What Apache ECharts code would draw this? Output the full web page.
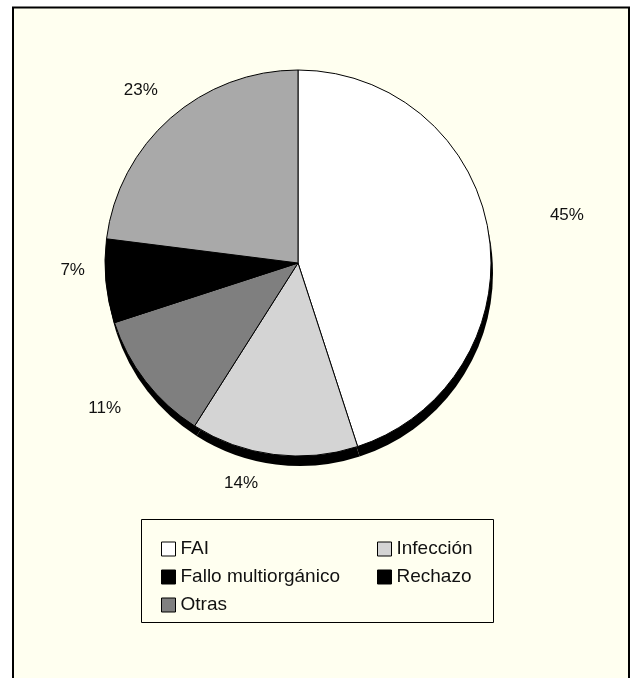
<!DOCTYPE html>
<html>
<head>
<meta charset="utf-8">
<script src="https://cdn.jsdelivr.net/npm/echarts@6/dist/echarts.min.js"></script>
<style>
  html, body { margin: 0; padding: 0; background: #fff; }
  #chart { width: 632px; height: 678px; }
</style>
</head>
<body>
<div id="chart"></div>
<script>
// slices, clockwise from 12 o'clock
const causes = ['FAI', 'Infección', 'Otras', 'Rechazo', 'Fallo multiorgánico']
const shares = [45, 14, 11, 7, 23]
const sliceColors = ['#ffffff', '#d4d4d4', '#7f7f7f', '#000000', '#a9a9a9']
// legend as printed
const legendLeftCol = ['FAI', 'Fallo multiorgánico', 'Otras']
const legendRightCol = ['Infección', 'Rechazo']
const legendColors = {
  'FAI': '#ffffff',
  'Infección': '#d4d4d4',
  'Fallo multiorgánico': '#000000',
  'Rechazo': '#000000',
  'Otras': '#808080'
}

const FONT = '"Liberation Sans", Arial, sans-serif'
const center = [298, 263]
const radius = 193
// small label nudges so the percentages sit where the original put them
const labelNudge = [[-3, -8], [-8, 7], [-2, 14], [6, -13], [7, -11]]

const legendBase = {
  orient: 'vertical',
  top: 534,
  itemWidth: 14,
  itemHeight: 14,
  itemGap: 8,
  icon: 'rect',
  selectedMode: false,
  textStyle: { fontFamily: FONT, fontSize: 19, color: '#111', lineHeight: 20 },
  itemStyle: { borderColor: '#000', borderWidth: 1 }
}

const toLegend = (names) => names.map((n) => ({ name: n, itemStyle: { color: legendColors[n] } }))

const option = {
  animation: false,
  graphic: [
    {
      type: 'rect', z: -1,
      shape: { x: 13, y: 7.5, width: 616, height: 700 },
      style: { fill: '#fffff0', stroke: '#000', lineWidth: 2 }
    },
    {
      type: 'rect', z: -1,
      shape: { x: 141.5, y: 519.5, width: 352, height: 103 },
      style: { fill: 'none', stroke: '#000', lineWidth: 1 }
    }
  ],
  legend: [
    Object.assign({}, legendBase, { left: 156, data: toLegend(legendLeftCol) }),
    Object.assign({}, legendBase, { left: 372, data: toLegend(legendRightCol) })
  ],
  series: [
    {
      // 3D side of the pie
      type: 'pie',
      silent: true,
      center: [center[0] + 2, center[1] + 10],
      radius: radius,
      startAngle: 90,
      clockwise: true,
      label: { show: false },
      labelLine: { show: false },
      itemStyle: { color: '#000', borderWidth: 0 },
      data: causes.map((n, i) => ({ name: n, value: shares[i] }))
    },
    {
      type: 'pie',
      center: center,
      radius: radius,
      startAngle: 90,
      clockwise: true,
      avoidLabelOverlap: false,
      label: {
        show: true,
        position: 'outside',
        formatter: '{c}%',
        fontFamily: FONT,
        fontSize: 17,
        color: '#111'
      },
      labelLine: { show: false, length: 22, length2: 0 },
      labelLayout: (p) => ({ dx: labelNudge[p.dataIndex][0], dy: labelNudge[p.dataIndex][1] }),
      itemStyle: { borderColor: '#000', borderWidth: 1 },
      data: causes.map((n, i) => ({
        name: n,
        value: shares[i],
        itemStyle: { color: sliceColors[i] },
        labelLine: i === 0 ? { length: 60, length2: 0 } : undefined
      }))
    }
  ]
}

const myChart = echarts.init(document.getElementById('chart'))
myChart.setOption(option)
</script>
</body>
</html>
